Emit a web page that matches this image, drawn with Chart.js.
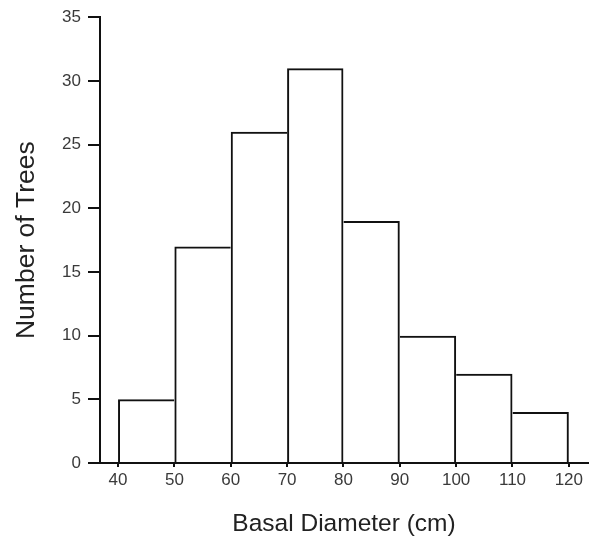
<!DOCTYPE html>
<html>
<head>
<meta charset="utf-8">
<script src="https://cdn.jsdelivr.net/npm/chart.js@4"></script>
<style>
  html, body { margin: 0; padding: 0; background: #fff; }
  #wrap { width: 589px; height: 548px; }
</style>
</head>
<body>
<div id="wrap"><canvas id="histChart" width="589" height="548"></canvas></div>
<script>
// histogram bins (lower edge, cm) and tree counts
const binStarts = [40, 50, 60, 70, 80, 90, 100, 110];
const binWidth = 10;
const treeCounts = [5, 17, 26, 31, 19, 10, 7, 4];
const xTickValues = [40, 50, 60, 70, 80, 90, 100, 110, 120];
const yTickValues = [0, 5, 10, 15, 20, 25, 30, 35];

const lineColor = '#111';
const tickColor = '#3a3a3a';
const fontFamily = '"Liberation Sans", Arial, sans-serif';

const ctx = document.getElementById('histChart').getContext('2d');

// shared edges are drawn only by the taller of the two neighbouring bars
function edgeWidths(c) {
    const i = c.dataIndex;
    const last = treeCounts.length - 1;
    const h = treeCounts[i];
    return {
        top: 2,
        bottom: 0,
        left: (i === 0 || h >= treeCounts[i - 1]) ? 2 : 0,
        right: (i === last || h > treeCounts[i + 1]) ? 2 : 0
    };
}

new Chart(ctx, {
    type: 'bar',
    data: {
        datasets: [{
            data: binStarts.map((s, i) => ({ x: s + binWidth / 2, y: treeCounts[i] })),
            backgroundColor: 'rgba(0,0,0,0)',
            borderColor: lineColor,
            borderWidth: edgeWidths,
            inflateAmount: 0,
            barPercentage: 1,
            categoryPercentage: 1,
            clip: false
        }]
    },
    options: {
        responsive: false,
        animation: false,
        layout: { padding: { top: 16, right: 1, left: 0, bottom: 0 } },
        plugins: {
            legend: { display: false },
            tooltip: { enabled: false }
        },
        scales: {
            x: {
                type: 'linear',
                offset: false,
                min: 36.8,
                max: 123.4,
                afterBuildTicks: (scale) => {
                    scale.ticks = xTickValues.map(v => ({ value: v }));
                },
                afterFit: (scale) => { scale.height = 85; },
                border: { display: true, color: lineColor, width: 2 },
                grid: {
                    offset: false,
                    drawOnChartArea: false,
                    drawTicks: true,
                    tickLength: 4,
                    color: lineColor,
                    lineWidth: 2
                },
                ticks: {
                    color: tickColor,
                    padding: 3,
                    autoSkip: false,
                    maxRotation: 0,
                    font: { family: fontFamily, size: 17 }
                },
                title: {
                    display: true,
                    text: 'Basal Diameter (cm)',
                    color: '#222',
                    padding: { top: 0, bottom: 9 },
                    font: { family: fontFamily, size: 24.5 }
                }
            },
            y: {
                min: 0,
                max: 35,
                afterBuildTicks: (scale) => {
                    scale.ticks = yTickValues.map(v => ({ value: v }));
                },
                afterFit: (scale) => { scale.width = 100; },
                border: { display: true, color: lineColor, width: 2 },
                grid: {
                    drawOnChartArea: false,
                    drawTicks: true,
                    tickLength: 12,
                    color: lineColor,
                    lineWidth: 2
                },
                ticks: {
                    color: tickColor,
                    padding: 7,
                    font: { family: fontFamily, size: 17 }
                },
                title: {
                    display: true,
                    text: 'Number of Trees',
                    color: '#222',
                    padding: { top: 11, bottom: 0 },
                    font: { family: fontFamily, size: 26.5 }
                }
            }
        }
    }
});
</script>
</body>
</html>
